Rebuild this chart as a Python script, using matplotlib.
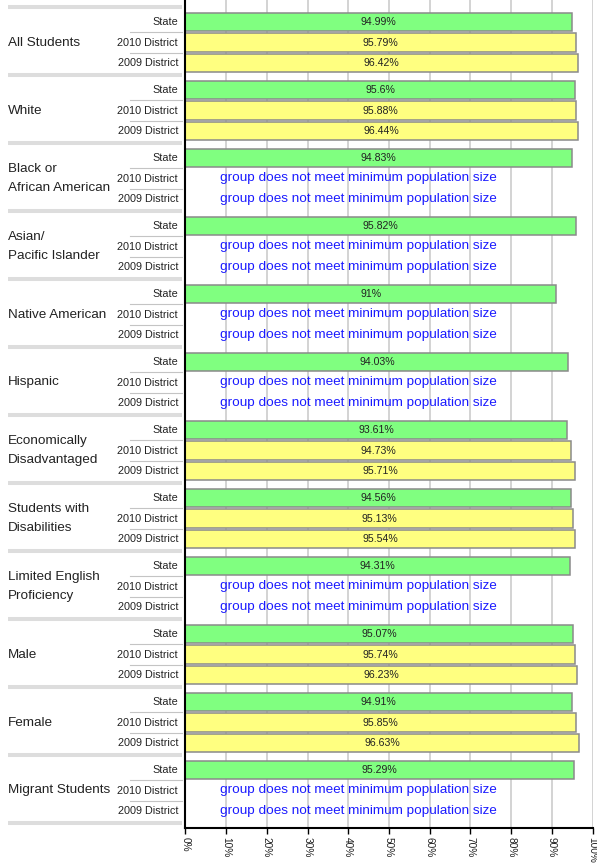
import matplotlib
matplotlib.use("Agg")
import matplotlib.pyplot as plt
import matplotlib.transforms as mtransforms

plt.rcParams['font.family'] = ['Liberation Sans', 'DejaVu Sans']

groups = ["All Students", "White", "Black or\nAfrican American", "Asian/\nPacific Islander",
          "Native American", "Hispanic", "Economically\nDisadvantaged",
          "Students with\nDisabilities", "Limited English\nProficiency", "Male", "Female",
          "Migrant Students"]
subrows = ["State", "2010 District", "2009 District"]
state = [94.99, 95.6, 94.83, 95.82, 91, 94.03, 93.61, 94.56, 94.31, 95.07, 94.91, 95.29]
district_2010 = [95.79, 95.88, None, None, None, None, 94.73, 95.13, None, 95.74, 95.85, None]
district_2009 = [96.42, 96.44, None, None, None, None, 95.71, 95.54, None, 96.23, 96.63, None]
x_ticks = [0, 10, 20, 30, 40, 50, 60, 70, 80, 90, 100]
x_ticklabels = [f"{t}%" for t in x_ticks]
missing_msg = "group does not meet minimum population size"

W, H, DPI = 597, 864, 100
fig = plt.figure(figsize=(W / DPI, H / DPI), dpi=DPI)
ax_left, ax_right, ax_bot = 185.3, 592.7, 827.7
ax = fig.add_axes([ax_left / W, (H - ax_bot) / H, (ax_right - ax_left) / W, ax_bot / H])

# layout in pixel-like vertical units
GROUP_PITCH = 68.0
SEP0 = 7.0
ROW_OFF = 15.0
ROW_PITCH = 20.5
BAR_H = 18.5

colors = ["#80ff80", "#ffff80", "#ffff80"]
series = [state, district_2010, district_2009]

ax.set_xlim(0, 100)
ax.set_ylim(ax_bot, 0)

for t in x_ticks:
    ax.axvline(t, color="#cccccc", lw=1.2, zorder=0)

blend = mtransforms.blended_transform_factory(fig.transFigure, ax.transData)

for i, g in enumerate(groups):
    top = SEP0 + GROUP_PITCH * i
    ax.plot([8 / W, 182 / W], [top, top], transform=blend, color="#dddddd", lw=2.9,
            solid_capstyle="butt", clip_on=False)
    mid = top + ROW_OFF + ROW_PITCH
    ax.text(8 / W, mid, g, transform=blend, fontsize=9.7, color="#222222",
            ha="left", va="center", linespacing=1.7, clip_on=False)
    for j, (lab, ser, col) in enumerate(zip(subrows, series, colors)):
        yc = top + ROW_OFF + ROW_PITCH * j
        ax.text(178 / W, yc, lab, transform=blend, fontsize=7.8, color="#222222",
                ha="right", va="center", clip_on=False)
        if j < 2:
            yl = yc + ROW_PITCH / 2
            ax.plot([130 / W, 182 / W], [yl, yl], transform=blend, color="#c4c4c4",
                    lw=0.8, clip_on=False)
        v = ser[i]
        if v is None:
            ax.text(8.6, yc, missing_msg, fontsize=9.7, color="#1a1aff",
                    ha="left", va="center", zorder=4)
        else:
            ax.barh(yc, v, height=BAR_H, color=col, edgecolor="#8a8a8a",
                    linewidth=1.1, zorder=2)
            ax.text(v / 2, yc, f"{v:g}%", fontsize=7.6, color="#222222",
                    ha="center", va="center", zorder=3)

top = SEP0 + GROUP_PITCH * len(groups)
ax.plot([8 / W, 182 / W], [top, top], transform=blend, color="#dddddd", lw=2.9,
        solid_capstyle="butt", clip_on=False)

ax.set_xticks(x_ticks)
ax.set_xticklabels(x_ticklabels, rotation=-90, fontsize=7.3)
ax.tick_params(axis="x", direction="out", length=4.5, width=1.0, pad=2, colors="black",
               labelcolor="#222222")
ax.set_yticks([])
for s in ["top", "right"]:
    ax.spines[s].set_visible(False)
for s in ["left", "bottom"]:
    ax.spines[s].set_linewidth(1.5)
    ax.spines[s].set_color("black")
for lbl in ax.get_xticklabels():
    lbl.set_va("top")
    lbl.set_ha("center")

fig.savefig("out.png", dpi=DPI)
